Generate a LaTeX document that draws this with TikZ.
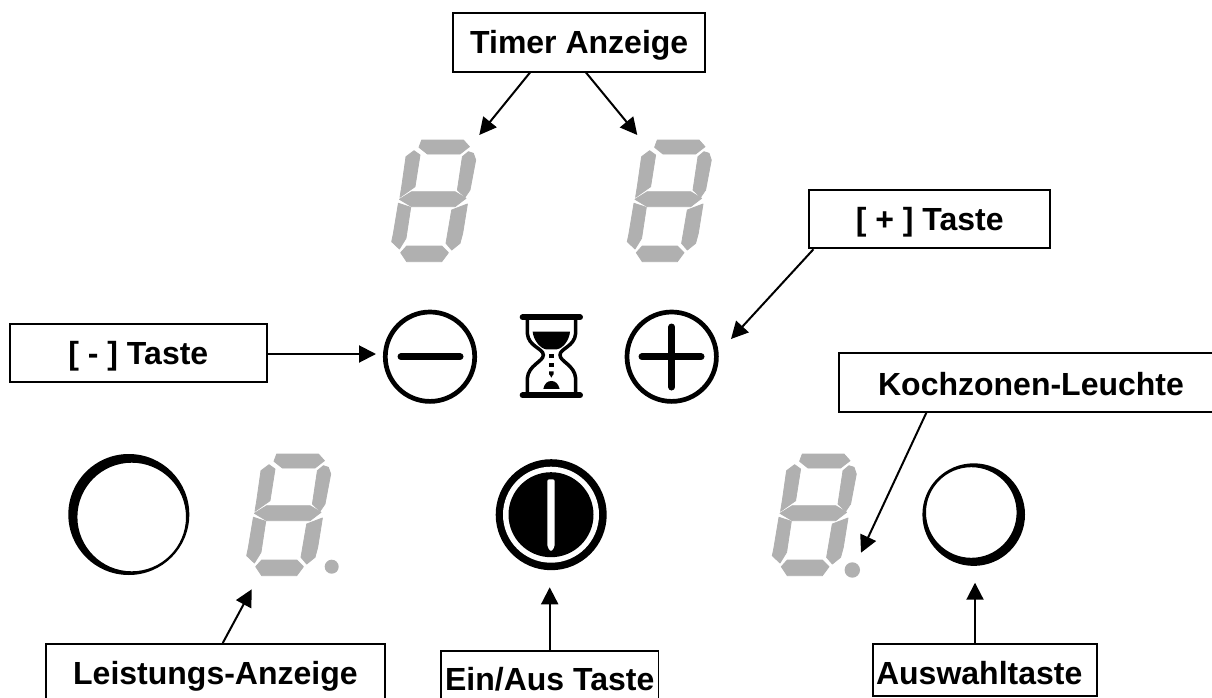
\documentclass[tikz,border=0pt]{standalone}
\usepackage{fontspec}
\setmainfont{Liberation Sans}
\usetikzlibrary{arrows.meta,calc}
\definecolor{seggrey}{HTML}{B0B0B0}
\tikzset{
  lbl/.style={draw=black,line width=1.8pt,fill=white,inner sep=0pt,text height=23pt,text depth=0pt,font=\bfseries\fontsize{32}{38}\selectfont},
  conn/.style={line width=2pt,-{Triangle[length=17pt,width=17pt]}},
  ring/.style={draw=black,line width=4.7pt},
  bar/.style={draw=black,line width=7pt,line cap=round},
  seg/.style={fill=seggrey,draw=seggrey,line width=0.8pt,line join=round},
  segdigit/.pic={
    \path[seg] (30,0)--(71.7,0)--(77.7,6.7)--(68.3,14)--(35.7,14)--(27.3,7.3)--cycle;
    \path[seg] (76.7,11.7)--(81.7,13.3)--(84,20)--(78.3,50)--(73.3,57.3)--(65.7,50)--(70.7,16.7)--cycle;
    \path[seg] (22.3,10.7)--(28.3,15)--(23.3,46.7)--(8.3,57.3)--(10,46.7)--(14.3,16.7)--cycle;
    \path[seg] (7.7,59.3)--(20,51.7)--(63.3,51.7)--(74.3,58.3)--(63.3,66.7)--(20,66.7)--cycle;
    \path[seg] (6.7,63.3)--(19,67.3)--(14.3,98.3)--(7.7,109)--(0,101.7)--(1.7,93.3)--cycle;
    \path[seg] (75.7,64)--(71,93.3)--(68.3,103.3)--(60,110)--(54.3,103.3)--(60,70)--cycle;
    \path[seg] (15,106)--(50,106)--(56.7,112.7)--(50,121.7)--(15,121.7)--(9,112.7)--cycle;
  }
}
\begin{document}
\begin{tikzpicture}[x=1pt,y=-1pt]
\useasboundingbox (0,0) rectangle (1212,698);
\clip (0,0) rectangle (1212,698);
\fill[white] (0,0) rectangle (1212,698);

% seven-segment digits
\pic at (391.7,140) {segdigit};
\pic at (627.3,140) {segdigit};
\pic at (246.7,454) {segdigit};
\pic at (772.3,454) {segdigit};
\fill[seggrey] (331.7,566.7) circle (7);
\fill[seggrey] (852.3,570) circle (7.7);

% minus and plus keys
\draw[ring] (430,356.7) circle (44.7);
\draw[bar] (401,356.7) -- (460,356.7);
\draw[ring] (671.7,356.7) circle (44.7);
\draw[bar] (642,356.7) -- (701,356.7);
\draw[bar] (671.7,327) -- (671.7,387);

% hourglass
\begin{scope}[shift={(510,305)},x=0.3333pt,y=-0.3333pt]
  \draw[line width=6pt,line cap=round] (38,37) -- (210,37);
  \draw[line width=6pt,line cap=round] (38,271) -- (210,271);
  \draw[line width=3.5pt] (52,37) -- (52,85) .. controls (55,125) and (100,130) .. (100,150) .. controls (100,170) and (55,180) .. (52,220) -- (52,271);
  \draw[line width=3.5pt] (197,37) -- (197,85) .. controls (194,125) and (150,130) .. (150,150) .. controls (150,170) and (194,180) .. (197,220) -- (197,271);
  \fill (68,80) -- (180,80) .. controls (178,105) and (160,130) .. (140,133) -- (108,133) .. controls (90,130) and (70,105) .. (68,80) -- cycle;
  \fill (117,147) rectangle (131,160);
  \fill (117,174) rectangle (131,187);
  \fill (117,199) rectangle (131,209) (119,209) -- (129,209) -- (124,218) -- cycle;
  \fill (100,252) .. controls (103,236) and (112,228) .. (124,228) .. controls (136,228) and (145,236) .. (149,252) -- cycle;
\end{scope}

% left and right round keys
\fill[black,even odd rule] (128.8,514.5) circle (60.5) (131.7,517) circle (54.3);
\fill[black,even odd rule] (973.7,514.6) circle (51.3) (971.3,512.5) circle (45.3);

% on/off key
\fill[black] (551.2,514.7) circle (55.5);
\fill[white] (551,514.7) circle (48);
\fill[black] (551,514.7) circle (42.5);
\fill[white,rounded corners=2pt] (547.3,479.3) -- (554.7,479.3) -- (554.7,547) -- (551,551.7) -- (547.3,547) -- cycle;

% labels
\node[lbl,minimum width=251.7pt,minimum height=58.7pt] (timer) at (579.2,42.3) {\raisebox{-0.2pt}{Timer Anzeige}};
\node[lbl,minimum width=240.7pt,minimum height=58.3pt] (plus) at (929.7,219.2) {\raisebox{0pt}{[ + ] Taste}};
\node[lbl,minimum width=256.7pt,minimum height=58.3pt] (minus) at (138.3,353.2) {\raisebox{0.7pt}{[ - ] Taste}};
\node[lbl,minimum width=384pt,minimum height=58.4pt] (koch) at (1031,382.5) {\raisebox{-1pt}{Kochzonen-Leuchte}};
\node[lbl,minimum width=339.4pt,minimum height=60pt] (power) at (215.4,674) {\raisebox{1.2pt}{Leistungs-Anzeige}};
\node[lbl,minimum width=217.4pt,minimum height=54pt] (onoff) at (549.7,677.7) {\raisebox{-0.8pt}{Ein/Aus Taste}};
\node[lbl,minimum width=224.3pt,minimum height=52pt] (select) at (985.2,670) {\raisebox{-2.5pt}{Auswahltaste\hspace*{12pt}}};

% connector ends
\coordinate (tipTimerA) at (479.3,135);
\coordinate (tipTimerB) at (637.3,135);
\coordinate (tipPlus) at (731,339);
\coordinate (tipMinus) at (376,354);
\coordinate (tipKoch) at (861,552.7);
\coordinate (tipPower) at (251.7,589.3);
\coordinate (tipOnoff) at (549.7,587.3);
\coordinate (tipSelect) at (975,582.7);

\draw[conn] ($(timer.south)+(-49.2,0)$) -- (tipTimerA);
\draw[conn] ($(timer.south)+(6.8,0)$) -- (tipTimerB);
\draw[conn] ($(plus.south west)+(5,0)$) -- (tipPlus);
\draw[conn] (minus.east) ++(0,0.8) -- (tipMinus);
\draw[conn] ($(koch.south west)+(88.3,0)$) -- (tipKoch);
\draw[conn] ($(power.north)+(7.3,0)$) -- (tipPower);
\draw[conn] (onoff.north) -- (tipOnoff);
\draw[conn] ($(select.north)+(-10.2,0)$) -- (tipSelect);
\end{tikzpicture}
\end{document}
